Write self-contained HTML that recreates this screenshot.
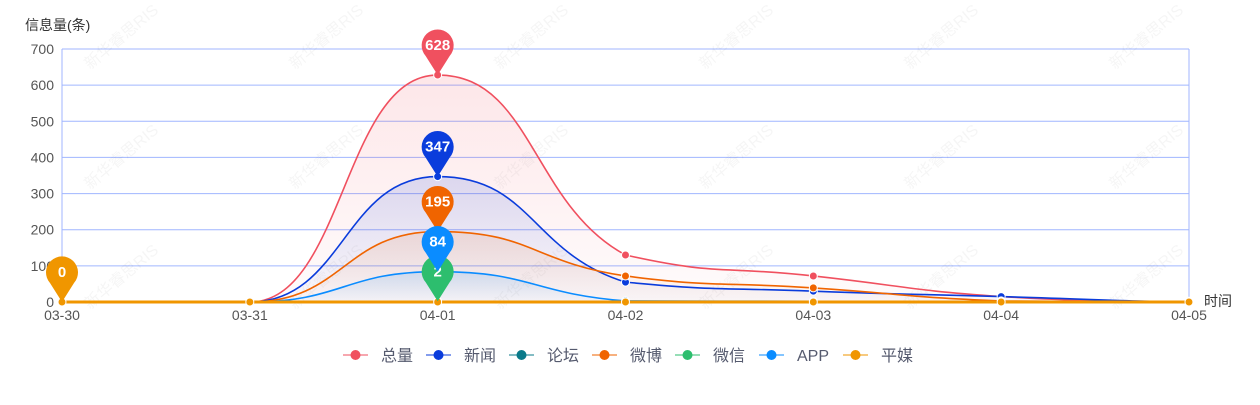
<!DOCTYPE html>
<html><head><meta charset="utf-8"><style>
body{margin:0;background:#fff;width:1260px;height:400px;overflow:hidden;font-family:"Liberation Sans","Noto Sans CJK SC",sans-serif}
</style></head><body>
<svg id="s" width="1260" height="400" xmlns="http://www.w3.org/2000/svg" font-family="Liberation Sans, Noto Sans CJK SC, sans-serif">
<defs>
<linearGradient id="g0" x1="0" y1="0" x2="0" y2="1"><stop offset="0" stop-color="#f0505f" stop-opacity="0.14"/><stop offset="1" stop-color="#f0505f" stop-opacity="0.02"/></linearGradient>
<linearGradient id="g1" x1="0" y1="0" x2="0" y2="1"><stop offset="0" stop-color="#0a3cdc" stop-opacity="0.14"/><stop offset="1" stop-color="#0a3cdc" stop-opacity="0.02"/></linearGradient>
<linearGradient id="g3" x1="0" y1="0" x2="0" y2="1"><stop offset="0" stop-color="#f06400" stop-opacity="0.12"/><stop offset="1" stop-color="#f06400" stop-opacity="0.02"/></linearGradient>
<linearGradient id="g5" x1="0" y1="0" x2="0" y2="1"><stop offset="0" stop-color="#0a8cff" stop-opacity="0.15"/><stop offset="1" stop-color="#0a8cff" stop-opacity="0.02"/></linearGradient>
</defs>
<g id="grid"></g>
<g id="areas"></g>
<g id="lines"></g>
<g id="pins"></g>
<g id="leg"></g>
</svg>
<script>
const NS="http://www.w3.org/2000/svg";
function el(p,t,a,txt){const e=document.createElementNS(NS,t);for(const k in a)e.setAttribute(k,a[k]);if(txt!=null)e.textContent=txt;p.appendChild(e);return e;}
const X0=62,DX=187.83,Y0=302,PY=253/700;
const xs=i=>X0+i*DX, ys=v=>Y0-v*PY;
const grid=document.getElementById('grid');
for(let v=0;v<=700;v+=100){const y=ys(v);
 el(grid,'line',{x1:62,x2:1189,y1:y,y2:y,stroke:'#a0b6ff','stroke-width':1});
 el(grid,'text',{x:54,y:y+5,'text-anchor':'end','font-size':14,fill:'#555'},v);}
el(grid,'line',{x1:1189,x2:1189,y1:49,y2:302,stroke:'#a0b6ff'});
el(grid,'line',{x1:62,x2:62,y1:49,y2:302,stroke:'#a0b6ff'});
el(grid,'text',{x:25,y:30,'font-size':14,fill:'#333'},'信息量(条)');
el(grid,'text',{x:1204,y:306,'font-size':14,fill:'#333'},'时间');
const labs=['03-30','03-31','04-01','04-02','04-03','04-04','04-05'];
labs.forEach((l,i)=>el(grid,'text',{x:xs(i),y:320,'text-anchor':'middle','font-size':14,fill:'#555'},l));
for(let r=0;r<3;r++)for(let c=0;c<7;c++){const x=90+c*205,y=70+r*120;
 el(grid,'text',{x:x,y:y,'font-size':16,fill:'#000','fill-opacity':0.04,transform:`rotate(-40 ${x} ${y})`},'新华睿思RIS');}
const S=[
 {n:'总量',c:'#f0505f',d:[0,0,628,130,72,15,0],g:'g0',w:1.6},
 {n:'新闻',c:'#0a3cdc',d:[0,0,347,55,30,15,0],g:'g1',w:1.6},
 {n:'论坛',c:'#0a7a8a',d:[0,0,0,0,0,0,0]},
 {n:'微博',c:'#f06400',d:[0,0,195,72,39,3,0],g:'g3',w:1.6},
 {n:'微信',c:'#2dbe6e',d:[2,2,2,2,2,2,2],w:1.6},
 {n:'APP',c:'#0a8cff',d:[0,0,84,3,2,1,0],g:'g5',w:1.6},
 {n:'平媒',c:'#f09600',d:[0,0,0,0,0,0,0],w:3}
];
function path(d){const p=d.map((v,i)=>[xs(i),ys(v)]);let s=`M${p[0][0]},${p[0][1]}`;
 for(let i=0;i<p.length-1;i++){const a=p[i],b=p[i+1],pr=p[i-1]||a,nx=p[i+2]||b;
  const lo=Math.min(a[1],b[1]),hi=Math.max(a[1],b[1]),k=0.5;
  let c1=[a[0]+(b[0]-pr[0])*k/2,a[1]+(b[1]-pr[1])*k/2],c2=[b[0]-(nx[0]-a[0])*k/2,b[1]-(nx[1]-a[1])*k/2];
  c1[1]=Math.max(lo,Math.min(hi,c1[1]));c2[1]=Math.max(lo,Math.min(hi,c2[1]));
  if((a[1]<=pr[1]&&a[1]<=b[1])||(a[1]>=pr[1]&&a[1]>=b[1]))c1[1]=a[1];
  if((b[1]<=a[1]&&b[1]<=nx[1])||(b[1]>=a[1]&&b[1]>=nx[1]))c2[1]=b[1];
  s+=` C${c1[0]},${c1[1]} ${c2[0]},${c2[1]} ${b[0]},${b[1]}`;}
 return s;}
const areas=document.getElementById('areas'),lines=document.getElementById('lines');
S.forEach(s=>{const p=path(s.d);
 if(s.g)el(areas,'path',{d:p+` L${xs(6)},${Y0} L${xs(0)},${Y0} Z`,fill:`url(#${s.g})`});
 el(lines,'path',{d:p,fill:'none',stroke:s.c,'stroke-width':s.w});
 s.d.forEach((v,i)=>el(lines,'circle',{cx:xs(i),cy:ys(v),r:4,fill:s.c,stroke:'#fff','stroke-width':1}));});
const pins=document.getElementById('pins');
function pin(x,tipY,c,t){const cy=tipY-30,r=16;
 el(pins,'path',{d:`M${x},${tipY} L${x-12},${cy+11} A${r},${r} 0 1 1 ${x+12},${cy+11} Z`,fill:c});
 el(pins,'text',{x:x,y:cy+5,'text-anchor':'middle','font-size':15,fill:'#fff','font-weight':'bold'},t);}
pin(xs(0),Y0,'#f09600','0');
pin(xs(2),ys(628),'#f0505f','628');
pin(xs(2),ys(347),'#0a3cdc','347');
pin(xs(2),ys(195),'#f06400','195');
pin(xs(2),ys(2),'#2dbe6e','2');
pin(xs(2),ys(84),'#0a8cff','84');
const leg=document.getElementById('leg');
const lx=[343,426,509,592,675,759,843];
S.forEach((s,i)=>{const x=lx[i];
 el(leg,'line',{x1:x,x2:x+25,y1:355,y2:355,stroke:s.c,'stroke-opacity':0.5,'stroke-width':2});
 el(leg,'circle',{cx:x+12.5,cy:355,r:5,fill:s.c});
 el(leg,'text',{x:x+38,y:361,'font-size':16,fill:'#555a6e'},s.n);});
</script>
</body></html>
